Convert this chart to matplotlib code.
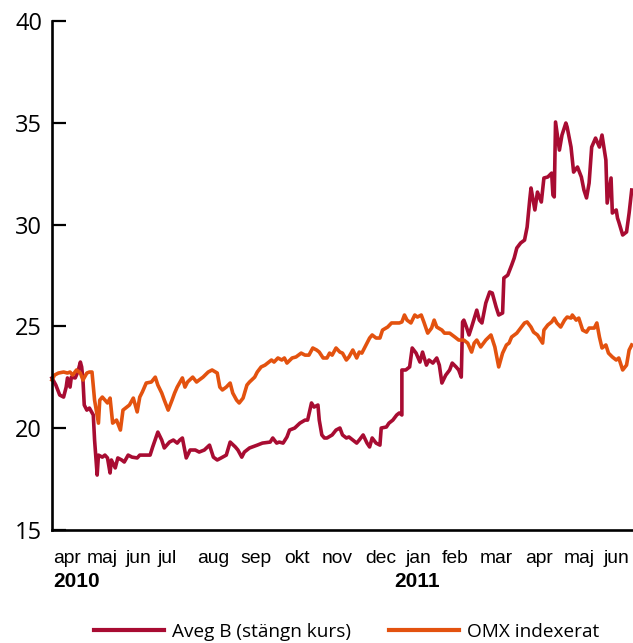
# -*- coding: utf-8 -*-
import matplotlib.pyplot as plt
from matplotlib.transforms import blended_transform_factory

# dagar sedan 1 april 2010
aveg_dag = [0, 3, 6, 9, 11, 12, 14, 15, 18, 20, 22, 23, 24, 25, 27, 29, 32, 33, 35, 36,
            39, 41, 43, 45, 46, 49, 51, 54, 56, 59, 62, 66, 68, 72, 76, 78, 82, 85, 87, 91,
            94, 97, 99, 101, 104, 107, 111, 114, 118, 122, 125, 128, 131, 135, 138, 142, 144, 147, 149, 153,
            159, 163, 169, 171, 174, 176, 179, 182, 184, 188, 192, 196, 198, 201, 203, 206, 207, 209, 211, 213,
            217, 220, 223, 225, 228, 230, 233, 236, 238, 241, 244, 246, 248, 251, 254, 255, 259, 261, 264, 267,
            269, 271, 271, 274, 277, 279, 282, 285, 287, 290, 292, 295, 298, 300, 302, 305, 308, 310, 313, 315,
            317, 318, 319, 321, 323, 325, 329, 331, 333, 336, 339, 341, 344, 346, 349, 350, 353, 356, 358, 360,
            363, 366, 368, 370, 371, 374, 376, 379, 381, 384, 387, 388, 389, 390, 393, 395, 398, 399, 402, 404,
            407, 410, 412, 414, 416, 418, 421, 424, 426, 429, 430, 433, 434, 437, 438, 439, 442, 445, 447, 449]
aveg_kurs = [22.47, 22.12, 21.63, 21.53, 22.02, 22.47, 22.02, 22.51, 22.47, 22.76, 23.25, 23.01, 22.37, 21.14, 20.89, 20.99, 20.65, 19.42, 17.70, 18.68,
             18.58, 18.68, 18.54, 17.80, 18.44, 18.05, 18.54, 18.44, 18.34, 18.68, 18.58, 18.54, 18.68, 18.68, 18.68, 19.08, 19.81, 19.42, 19.03, 19.32,
             19.42, 19.27, 19.42, 19.52, 18.54, 18.93, 18.93, 18.83, 18.93, 19.17, 18.58, 18.44, 18.54, 18.68, 19.32, 19.08, 18.93, 18.58, 18.83, 19.03,
             19.17, 19.27, 19.32, 19.52, 19.27, 19.32, 19.27, 19.57, 19.91, 20.01, 20.25, 20.40, 20.40, 21.24, 21.04, 21.14, 20.40, 19.67, 19.52, 19.52,
             19.67, 19.91, 20.01, 19.67, 19.52, 19.57, 19.42, 19.27, 19.42, 19.67, 19.27, 19.08, 19.52, 19.27, 19.17, 20.01, 20.06, 20.25, 20.40, 20.65,
             20.75, 20.65, 22.86, 22.86, 23.01, 23.94, 23.69, 23.25, 23.74, 23.10, 23.35, 23.20, 23.45, 23.10, 22.22, 22.61, 22.86, 23.20, 23.01, 22.86,
             22.51, 25.22, 25.31, 24.97, 24.58, 24.97, 25.80, 25.31, 25.17, 26.15, 26.69, 26.64, 25.95, 25.56, 25.66, 27.38, 27.52, 28.01, 28.36, 28.85,
             29.10, 29.24, 29.88, 31.21, 31.80, 30.72, 31.60, 31.11, 32.29, 32.34, 32.53, 31.45, 31.36, 35.04, 33.66, 34.40, 34.99, 34.79, 33.81, 32.58,
             32.83, 32.34, 31.70, 31.31, 32.04, 33.81, 34.25, 33.81, 34.40, 33.17, 31.06, 32.29, 30.57, 30.72, 30.32, 30.13, 29.49, 29.64, 30.57, 31.70]

omx_dag = [0, 2, 5, 9, 12, 14, 16, 19, 22, 24, 27, 29, 31, 33, 36, 37, 39, 43, 45, 47,
           50, 53, 55, 58, 60, 63, 66, 68, 70, 73, 77, 80, 82, 85, 87, 90, 93, 95, 97, 101,
           103, 105, 109, 112, 114, 117, 121, 124, 128, 130, 132, 135, 138, 140, 143, 145, 148, 151, 153, 157,
           159, 162, 165, 167, 170, 172, 175, 178, 180, 182, 186, 189, 193, 196, 199, 202, 205, 207, 210, 213,
           215, 217, 220, 223, 225, 228, 230, 233, 236, 238, 240, 244, 246, 248, 251, 254, 256, 260, 263, 265,
           269, 271, 273, 275, 278, 281, 283, 286, 288, 291, 294, 296, 298, 302, 304, 308, 312, 315, 319, 322,
           325, 327, 329, 332, 336, 340, 343, 345, 346, 349, 352, 354, 356, 360, 363, 366, 368, 371, 373, 376,
           377, 380, 381, 384, 387, 389, 391, 394, 397, 399, 402, 403, 406, 408, 411, 414, 416, 420, 422, 424,
           426, 429, 431, 434, 437, 439, 442, 445, 447, 449]
omx_index = [22.37, 22.61, 22.71, 22.76, 22.71, 22.76, 22.61, 22.86, 22.71, 22.37, 22.71, 22.76, 22.76, 21.38, 20.25, 21.38, 21.53, 21.24, 21.48, 20.25,
             20.40, 19.91, 20.89, 21.04, 21.14, 21.48, 20.80, 21.53, 21.78, 22.22, 22.27, 22.51, 22.12, 21.73, 21.38, 20.89, 21.38, 21.73, 22.02, 22.47,
             22.02, 22.27, 22.51, 22.27, 22.37, 22.51, 22.76, 22.86, 22.71, 22.02, 21.88, 22.02, 22.22, 21.73, 21.38, 21.24, 21.48, 22.12, 22.27, 22.51,
             22.76, 23.01, 23.10, 23.20, 23.35, 23.25, 23.45, 23.35, 23.45, 23.20, 23.45, 23.50, 23.69, 23.59, 23.59, 23.94, 23.84, 23.74, 23.45, 23.45,
             23.69, 23.59, 23.94, 23.74, 23.69, 23.35, 23.50, 23.84, 23.45, 23.74, 23.69, 24.18, 24.43, 24.58, 24.43, 24.43, 24.82, 24.97, 25.17, 25.17,
             25.17, 25.22, 25.56, 25.31, 25.17, 25.56, 25.46, 25.56, 25.22, 24.67, 24.92, 25.31, 24.97, 24.82, 24.67, 24.67, 24.48, 24.33, 24.33, 24.18,
             23.74, 24.18, 24.33, 23.99, 24.33, 24.58, 23.99, 23.35, 23.01, 23.69, 24.09, 24.18, 24.48, 24.67, 24.92, 25.17, 25.22, 24.97, 24.72, 24.58,
             24.48, 24.18, 24.82, 25.07, 25.22, 25.41, 25.17, 24.97, 25.31, 25.46, 25.41, 25.56, 25.31, 25.41, 24.82, 24.72, 24.92, 24.92, 25.17, 24.48,
             23.94, 24.09, 23.69, 23.50, 23.35, 23.45, 22.86, 23.10, 23.84, 24.09]

manader = ['apr', 'maj', 'jun', 'jul', 'aug', 'sep', 'okt', 'nov', 'dec',
           'jan', 'feb', 'mar', 'apr', 'maj', 'jun']
manad_dag = [12, 39, 67, 89, 125, 158, 190, 221, 255, 284, 312, 344, 377, 408, 437]
ar = ['2010', '2011']
ar_dag = [0.8, 265]

rod = '#A80C32'
orange = '#E3520F'


def aktie_plot():
    fig = plt.figure(figsize=(6.33, 6.43), dpi=100)
    ax = fig.add_axes([0.0821, 0.1757, 0.9179, 0.7916])

    ax.plot(aveg_dag, aveg_kurs, color=rod, lw=2.6, solid_joinstyle='round',
            label='Aveg B (stängn kurs)', clip_on=False)
    ax.plot(omx_dag, omx_index, color=orange, lw=2.6, solid_joinstyle='round',
            label='OMX indexerat', clip_on=False)

    ax.set_xlim(0, 450)
    ax.set_ylim(15, 40)
    ax.set_yticks(range(15, 41, 5))
    ax.set_xticks([])

    for s in ['top', 'right']:
        ax.spines[s].set_visible(False)
    for s in ['left', 'bottom']:
        ax.spines[s].set_linewidth(1.9)
        ax.spines[s].set_color('black')

    ax.tick_params(axis='y', direction='in', length=10, width=1.6, pad=7,
                   labelsize=17)
    for t in ax.get_yticklabels():
        t.set_fontfamily('Open Sans')

    trans = blended_transform_factory(ax.transData, ax.transAxes)
    for m, d in zip(manader, manad_dag):
        ax.text(d, -0.0648, m, transform=trans, ha='center', va='baseline',
                fontsize=13.9, family='Liberation Sans')
    for a, d in zip(ar, ar_dag):
        ax.text(d, -0.1114, a, transform=trans, ha='left', va='baseline',
                fontsize=15, fontweight='bold', family='Liberation Sans')

    fig.legend(loc='center', bbox_to_anchor=(0.547, 0.0171), ncol=2,
               frameon=False, prop={'family': 'Open Sans', 'size': 13.7},
               handlelength=3.7, handletextpad=0.4, columnspacing=2.0,
               borderpad=0, borderaxespad=0)
    for l in fig.legends[0].get_lines():
        l.set_linewidth(3)

    fig.savefig('out.png', dpi=100)


if __name__ == '__main__':
    aktie_plot()
